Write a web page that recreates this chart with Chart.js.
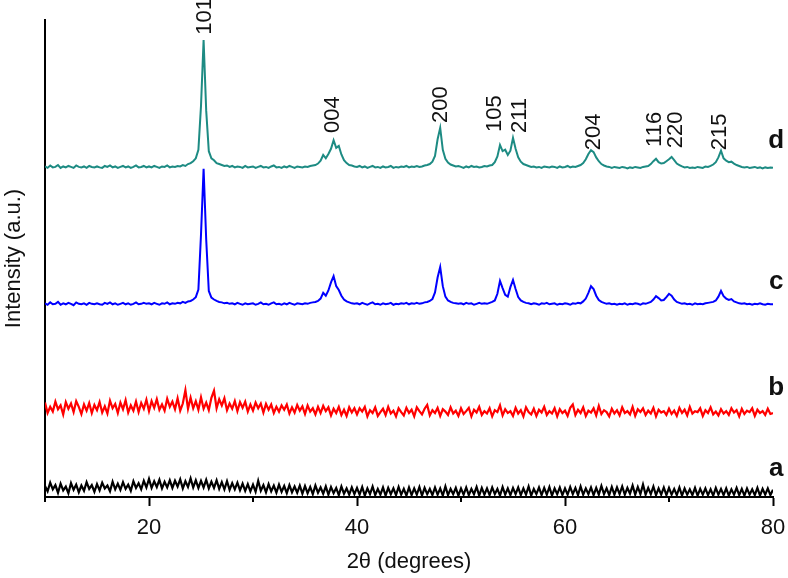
<!DOCTYPE html>
<html>
<head>
<meta charset="utf-8">
<title>XRD patterns a-d</title>
<script src="https://cdn.jsdelivr.net/npm/chart.js@4.4.0/dist/chart.umd.min.js"></script>
<style>
  html, body { margin: 0; padding: 0; background: #fff; }
  #wrap { width: 788px; height: 578px; }
</style>
</head>
<body>
<div id="wrap"><canvas id="xrdChart" width="788" height="578"></canvas></div>
<script>
// scans are sampled every 0.25 degree from 10 to 80 (2theta)
const angleStart = 10;
const angleStep = 0.25;

// sample a (black)
const intensityA = [
  2.3, 1.2, 3.0, 1.6, 2.5, 0.9, 2.8, 1.4, 2.2, 0.8, 2.9, 1.5, 2.6, 1.0, 2.4, 1.3, 3.1, 1.7, 2.5, 1.1,
  2.7, 1.4, 3.0, 1.8, 2.4, 1.2, 3.2, 1.6, 2.8, 1.5, 3.1, 1.7, 2.6, 1.3, 3.3, 1.9, 2.9, 1.6, 3.4, 2.0,
  3.8, 1.9, 3.3, 2.1, 3.6, 1.8, 3.2, 2.0, 3.5, 1.9, 3.4, 2.2, 3.7, 1.8, 3.3, 2.1, 3.9, 2.0, 3.5, 1.9,
  3.4, 2.0, 3.6, 1.8, 3.2, 1.9, 3.5, 1.7, 3.1, 1.6, 3.3, 1.5, 2.9, 1.6, 3.0, 1.4, 2.8, 1.3, 2.7, 1.2,
  2.6, 1.1, 3.4, 1.3, 2.5, 1.0, 2.7, 1.2, 2.4, 0.9, 2.6, 1.1, 2.3, 0.8, 2.5, 1.0, 2.2, 0.9, 2.4, 0.7,
  2.3, 0.8, 2.1, 0.6, 2.4, 0.9, 2.0, 0.7, 2.2, 0.5, 2.1, 0.8, 1.9, 0.4, 2.2, 0.7, 1.8, 0.5, 2.0, 0.6,
  1.9, 0.5, 2.1, 0.3, 1.8, 0.6, 2.2, 0.4, 1.7, 0.5, 2.0, 0.3, 1.9, 0.6, 1.8, 0.4, 2.1, 0.5, 1.7, 0.3,
  2.0, 0.4, 1.8, 0.5, 2.1, 0.3, 1.9, 0.6, 1.7, 0.4, 2.0, 0.5, 1.8, 0.3, 2.2, 0.4, 1.7, 0.6, 1.9, 0.3,
  1.8, 0.5, 2.0, 0.4, 1.7, 0.6, 2.1, 0.3, 1.9, 0.5, 1.8, 0.4, 2.0, 0.6, 1.7, 0.3, 2.1, 0.5, 1.8, 0.4,
  1.9, 0.6, 2.0, 0.4, 1.8, 0.5, 2.2, 0.3, 1.7, 0.6, 2.0, 0.4, 1.9, 0.5, 2.1, 0.3, 1.8, 0.6, 2.0, 0.4,
  1.8, 0.5, 2.1, 0.6, 1.9, 0.4, 2.2, 0.5, 1.8, 0.6, 2.0, 0.4, 1.9, 0.5, 2.3, 0.6, 1.8, 0.4, 2.1, 0.5,
  2.0, 0.6, 2.2, 0.5, 1.9, 0.7, 2.4, 0.5, 2.1, 0.6, 2.6, 0.5, 1.9, 0.6, 2.2, 0.4, 1.8, 0.5, 2.0, 0.4,
  1.9, 0.5, 1.7, 0.4, 2.0, 0.3, 1.8, 0.5, 1.6, 0.4, 1.9, 0.3, 1.7, 0.5, 1.8, 0.4, 1.6, 0.3, 1.9, 0.5,
  1.7, 0.4, 1.8, 0.3, 1.6, 0.5, 1.9, 0.4, 1.7, 0.3, 1.8, 0.5, 1.6, 0.4, 1.9, 0.3, 1.7, 0.5, 1.8, 0.4,
  1.5
];

// sample b (red)
const intensityB = [
  19.8, 17.6, 18.9, 17.9, 20.0, 18.4, 19.2, 17.3, 19.9, 18.5, 19.6, 17.8, 20.1, 18.9, 17.4, 19.4, 18.1, 19.7, 17.6, 19.3,
  18.2, 19.9, 17.7, 19.0, 17.5, 20.2, 18.6, 19.5, 17.6, 19.8, 18.4, 20.3, 17.7, 19.2, 18.1, 20.0, 17.8, 19.7, 18.5, 20.4,
  18.0, 20.1, 18.7, 20.5, 18.3, 19.4, 18.1, 20.6, 18.9, 20.0, 18.4, 20.7, 18.1, 19.6, 22.4, 18.5, 20.8, 18.6, 20.1, 18.3,
  20.9, 18.5, 19.8, 18.2, 20.8, 22.3, 18.6, 20.5, 19.2, 20.7, 18.2, 19.6, 18.5, 20.1, 18.0, 19.9, 18.7, 20.0, 17.9, 19.4,
  18.1, 19.8, 18.6, 19.6, 17.7, 19.5, 18.3, 19.4, 17.6, 18.9, 17.9, 19.2, 18.3, 19.4, 17.5, 18.8, 17.7, 19.3, 18.1, 19.0,
  17.4, 19.2, 17.9, 18.6, 17.3, 18.9, 17.6, 19.1, 18.0, 18.8, 17.1, 18.5, 17.6, 18.9, 17.2, 18.3, 17.0, 18.8, 17.7, 18.6,
  17.3, 18.6, 17.9, 18.9, 16.9, 18.2, 17.6, 18.8, 17.0, 17.8, 18.5, 17.2, 18.9, 17.5, 18.1, 16.9, 18.6, 17.8, 17.1, 18.7,
  17.6, 18.3, 16.9, 18.8, 18.0, 17.3, 18.5, 19.3, 17.1, 18.2, 17.6, 18.7, 17.0, 18.4, 17.9, 17.2, 18.8, 17.5, 18.1, 17.0,
  18.6, 17.4, 18.0, 18.7, 16.9, 18.3, 17.7, 18.9, 17.2, 18.0, 17.5, 18.6, 16.9, 18.2, 17.8, 19.2, 17.1, 18.4, 17.6, 18.0,
  17.0, 18.7, 17.5, 18.2, 16.9, 18.8, 17.8, 17.3, 18.5, 17.0, 18.3, 17.7, 18.9, 17.2, 18.0, 17.5, 18.6, 16.9, 18.4, 17.6,
  18.1, 17.0, 18.7, 19.4, 17.2, 18.3, 17.6, 18.8, 17.0, 18.1, 17.7, 18.6, 17.1, 19.1, 17.4, 18.2, 17.8, 16.9, 18.5, 17.5,
  18.2, 17.1, 18.8, 17.6, 18.0, 17.3, 18.9, 17.0, 18.4, 17.8, 18.6, 17.2, 18.1, 17.5, 18.7, 16.9, 18.3, 17.7, 18.0, 17.2,
  18.5, 17.4, 18.1, 17.0, 18.7, 17.6, 18.3, 17.1, 18.9, 17.5, 18.0, 17.8, 18.6, 17.0, 18.2, 17.6, 18.8, 17.3, 17.9, 17.1,
  18.4, 17.5, 18.0, 17.2, 18.6, 17.7, 18.2, 16.9, 18.5, 17.4, 18.1, 17.8, 18.6, 17.0, 18.3, 17.6, 18.0, 17.2, 18.5, 17.4,
  17.6
];

// sample c (blue)
const intensityC = [
  40.6, 40.3, 40.8, 40.4, 40.5, 40.9, 40.3, 40.6, 40.4, 40.7, 40.5, 40.2, 40.8, 40.5, 40.4, 40.6, 40.3, 40.7, 40.5, 40.4,
  40.6, 40.4, 40.3, 40.7, 40.5, 40.8, 40.4, 40.6, 40.3, 40.5, 40.7, 40.4, 40.6, 40.3, 40.5, 40.8, 40.4, 40.5, 40.7, 40.5,
  40.6, 40.4, 40.7, 40.5, 40.3, 40.6, 40.5, 40.8, 40.4, 40.6, 40.5, 40.7, 40.6, 40.9, 40.7, 41.0, 41.1, 41.4, 41.9, 43.5,
  55.0, 68.8, 54.0, 43.2, 41.8, 41.4, 41.1, 40.9, 40.8, 40.6, 40.7, 40.5, 40.6, 40.4, 40.7, 40.5, 40.3, 40.6, 40.4, 40.5,
  40.6, 40.3, 40.5, 40.8, 40.4, 40.5, 40.3, 40.6, 40.8, 40.4, 40.5, 40.3, 40.6, 40.4, 40.7, 40.5, 40.3, 40.6, 40.5, 40.4,
  40.6, 40.5, 40.7, 40.8, 40.9, 41.1, 41.6, 42.8, 42.2, 43.3, 45.0, 46.3, 44.2, 43.4, 42.2, 41.4, 41.0, 40.8, 40.6, 40.5,
  40.6, 40.4, 40.7, 40.5, 40.3, 40.6, 40.8, 40.4, 40.5, 40.3, 40.6, 40.4, 40.5, 40.7, 40.3, 40.5, 40.4, 40.6, 40.5, 40.7,
  40.4, 40.6, 40.5, 40.7, 40.5, 40.6, 40.8, 40.9, 41.1, 41.5, 42.9, 46.0, 48.2, 44.2, 42.0, 41.2, 40.9, 40.7, 40.6, 40.5,
  40.6, 40.4, 40.7, 40.5, 40.6, 40.3, 40.5, 40.7, 40.5, 40.6, 40.5, 40.7, 40.9, 41.2, 42.6, 45.3, 43.8, 42.4, 42.0, 44.0,
  45.5, 43.6, 41.9, 41.2, 40.9, 40.7, 40.6, 40.4, 40.6, 40.5, 40.3, 40.6, 40.5, 40.7, 40.4, 40.5, 40.6, 40.3, 40.5, 40.4,
  40.6, 40.5, 40.3, 40.6, 40.5, 40.7, 40.6, 41.0, 41.6, 42.8, 44.2, 43.6, 42.2, 41.3, 40.9, 40.7, 40.5, 40.6, 40.4, 40.5,
  40.3, 40.5, 40.4, 40.6, 40.3, 40.5, 40.4, 40.6, 40.5, 40.3, 40.6, 40.5, 40.7, 40.9, 41.4, 42.1, 41.7, 41.2, 41.3, 41.9,
  42.6, 42.2, 41.4, 40.9, 40.7, 40.5, 40.6, 40.4, 40.5, 40.3, 40.6, 40.4, 40.5, 40.4, 40.6, 40.7, 40.8, 40.9, 41.2, 42.0,
  43.2, 42.1, 41.6, 41.3, 41.5, 41.0, 40.8, 40.6, 40.5, 40.6, 40.4, 40.5, 40.3, 40.5, 40.4, 40.6, 40.4, 40.3, 40.5, 40.4,
  40.4
];

// sample d (teal)
const intensityD = [
  69.3, 69.0, 69.5, 69.1, 69.2, 69.6, 69.0, 69.3, 69.1, 69.4, 69.2, 69.0, 69.5, 69.2, 69.1, 69.3, 69.0, 69.4, 69.2, 69.1,
  69.3, 69.1, 69.0, 69.4, 69.2, 69.5, 69.1, 69.3, 69.0, 69.2, 69.4, 69.1, 69.3, 69.0, 69.2, 69.5, 69.1, 69.2, 69.4, 69.1,
  69.3, 69.1, 69.4, 69.2, 69.0, 69.3, 69.2, 69.5, 69.1, 69.3, 69.2, 69.4, 69.3, 69.6, 69.4, 69.8, 70.0, 70.4, 71.0, 72.8,
  82.0, 95.8, 81.0, 72.5, 71.0, 70.6, 70.0, 69.8, 69.6, 69.4, 69.5, 69.2, 69.4, 69.1, 69.3, 69.2, 69.0, 69.4, 69.1, 69.2,
  69.3, 69.0, 69.2, 69.4, 69.1, 69.2, 69.0, 69.3, 69.5, 69.1, 69.2, 69.0, 69.3, 69.1, 69.4, 69.2, 69.0, 69.3, 69.2, 69.1,
  69.3, 69.2, 69.4, 69.5, 69.6, 69.9, 70.5, 71.7, 71.0, 71.9, 73.0, 74.8, 73.2, 73.6, 71.8, 70.6, 70.0, 69.6, 69.5, 69.3,
  69.2, 69.4, 69.1, 69.3, 69.0, 69.2, 69.4, 69.1, 69.2, 69.0, 69.3, 69.1, 69.2, 69.4, 69.0, 69.2, 69.1, 69.3, 69.2, 69.4,
  69.1, 69.3, 69.2, 69.4, 69.2, 69.3, 69.5, 69.6, 69.8, 70.3, 71.5, 75.0, 77.4, 72.8, 70.9, 70.1, 69.7, 69.5, 69.3, 69.4,
  69.2, 69.0, 69.3, 69.1, 69.4, 69.2, 69.3, 69.1, 69.2, 69.4, 69.3, 69.5, 69.6, 70.2, 71.4, 73.8, 72.5, 72.8, 71.7, 72.6,
  75.3, 73.0, 71.2, 70.3, 69.8, 69.6, 69.4, 69.2, 69.3, 69.1, 69.2, 69.0, 69.3, 69.2, 69.1, 69.3, 69.2, 69.0, 69.3, 69.1,
  69.2, 69.4, 69.1, 69.3, 69.2, 69.4, 69.6, 70.0, 70.8, 71.9, 72.7, 72.3, 71.2, 70.4, 69.8, 69.5, 69.3, 69.2, 69.0, 69.2,
  69.1, 69.0, 69.2, 69.1, 68.9, 69.1, 69.0, 69.2, 69.1, 69.0, 69.2, 69.3, 69.4, 69.8, 70.4, 70.9, 70.2, 69.9, 70.0, 70.4,
  70.8, 71.3, 70.6, 69.9, 69.6, 69.3, 69.1, 69.2, 69.0, 69.1, 69.0, 69.2, 69.1, 69.0, 69.3, 69.2, 69.4, 69.7, 70.2, 71.2,
  72.6, 71.0, 70.5, 70.2, 70.3, 69.9, 69.6, 69.4, 69.2, 69.1, 69.2, 69.0, 69.1, 69.2, 69.0, 69.1, 68.9, 69.1, 69.0, 69.1,
  69.0
];

const twoTheta = intensityA.map((_, i) => angleStart + i * angleStep);

const sampleNames = ['a', 'b', 'c', 'd'];
const sampleColors = ['#000000', '#ff0000', '#0000ff', '#1d8b83'];

// anatase reflections marked above pattern d
const peakIndices = ['101', '004', '200', '105', '211', '204', '116', '220', '215'];

const FONT = '"Liberation Sans", Arial, Helvetica, sans-serif';

// where the hkl labels and sample letters sit (2theta, intensity)
const peakLabelPos = [[25.4, 96.9], [37.7, 76.3], [48.1, 78.4], [53.3, 76.5], [55.7, 76.3],
                      [62.8, 72.7], [68.65, 73.4], [70.7, 73.1], [74.9, 72.7]];
const sampleTagPos = [[80.3, 4.3], [80.3, 21.4], [80.3, 43.7], [80.3, 73.1]];

const annotatePlugin = {
    id: 'xrdAnnotate',
    afterDraw(chart) {
        const { ctx, chartArea, scales: { x, y } } = chart;
        ctx.save();

        // short minor ticks at 10, 30, 50, 70
        ctx.strokeStyle = '#000';
        ctx.lineWidth = 2;
        [10, 30, 50, 70].forEach(v => {
            const px = Math.round(x.getPixelForValue(v));
            ctx.beginPath();
            ctx.moveTo(px, chartArea.bottom);
            ctx.lineTo(px, chartArea.bottom + 5);
            ctx.stroke();
        });

        // hkl labels, rotated
        ctx.fillStyle = '#111';
        ctx.font = '22px ' + FONT;
        ctx.textAlign = 'left';
        ctx.textBaseline = 'middle';
        peakIndices.forEach((txt, i) => {
            ctx.save();
            ctx.translate(x.getPixelForValue(peakLabelPos[i][0]), y.getPixelForValue(peakLabelPos[i][1]));
            ctx.rotate(-Math.PI / 2);
            ctx.fillText(txt, 0, 0);
            ctx.restore();
        });

        // sample letters
        ctx.font = 'bold 26px ' + FONT;
        ctx.textAlign = 'center';
        ctx.textBaseline = 'alphabetic';
        sampleNames.forEach((name, i) => {
            ctx.fillText(name, x.getPixelForValue(sampleTagPos[i][0]), y.getPixelForValue(sampleTagPos[i][1]));
        });
        ctx.restore();
    }
};

const ctx = document.getElementById('xrdChart').getContext('2d');
const xrdChart = new Chart(ctx, {
    type: 'line',
    data: {
        datasets: [intensityA, intensityB, intensityC, intensityD].map((vals, i) => ({
            label: sampleNames[i],
            data: vals.map((v, j) => ({ x: twoTheta[j], y: v })),
            borderColor: sampleColors[i],
            borderWidth: i < 2 ? 2.2 : 2,
            pointRadius: 0,
            tension: 0,
            fill: false
        }))
    },
    options: {
        responsive: false,
        animation: false,
        layout: { padding: { top: 20, right: 15, left: 0, bottom: 0 } },
        plugins: {
            legend: { display: false },
            tooltip: { enabled: false }
        },
        scales: {
            x: {
                type: 'linear',
                min: 10,
                max: 80,
                afterFit: function (scale) {
                    scale.height = 81;
                    // the "80" label may hang over the right edge, like the original
                    scale.paddingLeft = 0;
                    scale.paddingRight = 0;
                },
                border: { display: true, color: '#000', width: 2 },
                grid: {
                    drawOnChartArea: false,
                    drawTicks: true,
                    tickLength: 9,
                    tickWidth: 2,
                    tickColor: function (c) {
                        return c.tick && c.tick.value % 20 === 0 ? '#000' : 'rgba(0,0,0,0)';
                    }
                },
                ticks: {
                    stepSize: 10,
                    autoSkip: false,
                    maxRotation: 0,
                    padding: 9,
                    color: '#111',
                    font: { family: FONT, size: 22 },
                    callback: function (value) {
                        return value % 20 === 0 ? String(value) : '';
                    }
                },
                title: {
                    display: true,
                    text: '2θ (degrees)',
                    color: '#111',
                    font: { family: FONT, size: 22 },
                    padding: { top: 0, bottom: 3 }
                }
            },
            y: {
                min: 0,
                max: 100,
                afterFit: function (scale) { scale.width = 45; },
                border: { display: true, color: '#000', width: 2 },
                grid: { drawOnChartArea: false, drawTicks: false },
                ticks: { display: false },
                title: {
                    display: true,
                    text: 'Intensity (a.u.)',
                    color: '#111',
                    font: { family: FONT, size: 22 },
                    padding: { top: 1, bottom: 0 }
                }
            }
        }
    },
    plugins: [annotatePlugin]
});
</script>
</body>
</html>
